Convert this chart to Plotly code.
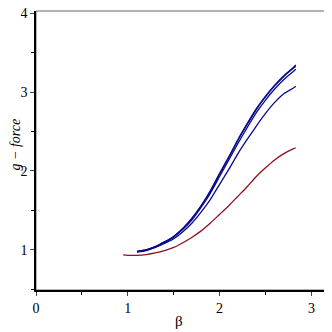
import plotly.graph_objects as go

# beta values where each curve was sampled
beta_blue = [1.1, 1.2, 1.3, 1.4, 1.5, 1.6, 1.7, 1.8, 1.9, 2.0, 2.1, 2.2, 2.3, 2.4, 2.5, 2.6, 2.7, 2.8, 2.83]
beta_red = [0.95, 1.0, 1.1, 1.2, 1.3, 1.4, 1.5, 1.6, 1.7, 1.8, 1.9, 2.0, 2.1, 2.2, 2.3, 2.4, 2.5, 2.6, 2.7, 2.8, 2.83]

g_blue_1 = [0.98, 1.0, 1.04, 1.10, 1.17, 1.27, 1.40, 1.56, 1.75, 1.97, 2.18, 2.40, 2.60, 2.79, 2.95, 3.09, 3.21, 3.31, 3.345]
g_blue_2 = [0.98, 1.0, 1.04, 1.10, 1.17, 1.27, 1.40, 1.56, 1.74, 1.96, 2.17, 2.39, 2.59, 2.78, 2.94, 3.08, 3.20, 3.30, 3.33]
g_blue_3 = [0.975, 0.995, 1.035, 1.09, 1.16, 1.26, 1.38, 1.54, 1.72, 1.93, 2.14, 2.35, 2.55, 2.74, 2.90, 3.04, 3.16, 3.26, 3.29]
g_blue_4 = [0.97, 0.99, 1.03, 1.08, 1.14, 1.23, 1.34, 1.48, 1.64, 1.83, 2.02, 2.22, 2.40, 2.57, 2.73, 2.87, 2.98, 3.05, 3.075]
g_red = [0.935, 0.93, 0.93, 0.94, 0.96, 0.99, 1.03, 1.09, 1.16, 1.24, 1.34, 1.45, 1.56, 1.68, 1.80, 1.93, 2.04, 2.14, 2.22, 2.28, 2.295]

blue = '#0a0a8c'
red = '#8c1020'
serif = 'Liberation Serif'

fig = go.Figure()
for g in [g_blue_1, g_blue_2, g_blue_3, g_blue_4]:
    fig.add_trace(go.Scatter(x=beta_blue, y=g, mode='lines',
                             line=dict(color=blue, width=1.3, shape='spline', smoothing=0.6),
                             showlegend=False))
fig.add_trace(go.Scatter(x=beta_red, y=g_red, mode='lines',
                         line=dict(color=red, width=1.3, shape='spline', smoothing=0.6),
                         showlegend=False))

font = dict(family=serif, size=14, color='black')

fig.update_xaxes(
    range=[0, 3.17], tickvals=[0, 1, 2, 3], ticks='outside', ticklen=4,
    showline=True, linecolor='black', linewidth=1.5, showgrid=False, zeroline=False,
    minor=dict(tickvals=[0.5, 1.5, 2.5], ticks='outside', ticklen=3, tickcolor='black'),
    tickfont=font, automargin=False, ticklabeloverflow='allow',
)
fig.update_yaxes(
    range=[0.49, 4.03], tickvals=[1, 2, 3, 4], ticks='outside', ticklen=4,
    showline=True, linecolor='black', linewidth=1.5, showgrid=False, zeroline=False,
    minor=dict(tickvals=[0.5, 1.5, 2.5, 3.5], ticks='outside', ticklen=3, tickcolor='black'),
    tickfont=font, automargin=False, ticklabeloverflow='allow',
)

# axis titles
fig.add_annotation(text='β', xref='paper', yref='paper', x=0.49, y=-0.075,
                   xanchor='center', yanchor='top', showarrow=False,
                   font=dict(family=serif, size=15, color='black'))
fig.add_annotation(text='<i>g − force</i>', xref='paper', yref='paper', x=-0.07, y=0.52,
                   xanchor='center', yanchor='middle', textangle=-90, showarrow=False,
                   font=dict(family=serif, size=14, color='black'))

# thin grey frame on top and right
fig.add_shape(type='rect', xref='paper', yref='paper', x0=0, y0=0, x1=1, y1=1,
              line=dict(color='#666666', width=1), layer='below')

# page body has an 8px margin, so the figure is offset by 8px
fig.update_layout(
    width=324, height=324,
    margin=dict(l=28, r=5, t=3, b=42),
    plot_bgcolor='white', paper_bgcolor='white',
)

fig.write_html("out.html")
